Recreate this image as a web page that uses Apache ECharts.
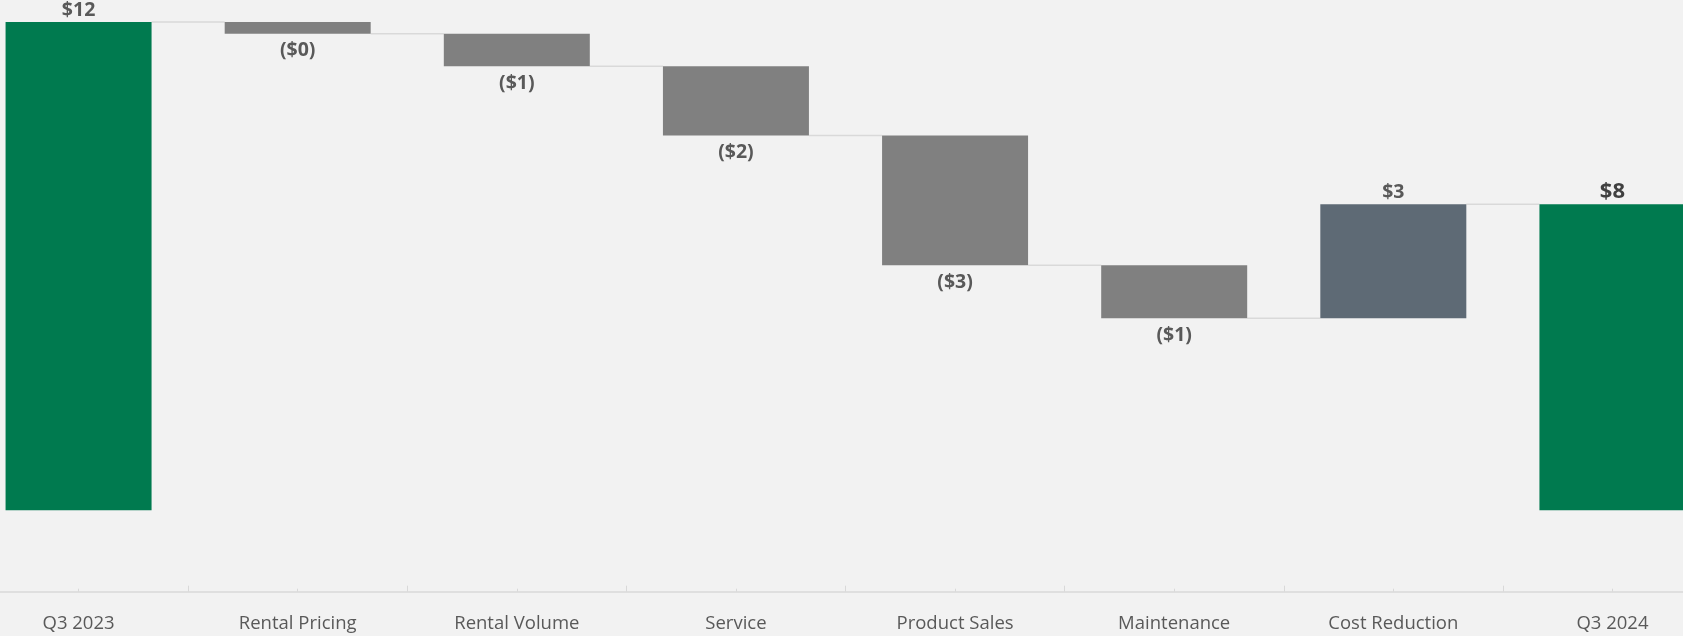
<!DOCTYPE html>
<html>
<head>
<meta charset="utf-8">
<script src="https://cdn.jsdelivr.net/npm/echarts@6/dist/echarts.min.js"></script>
<style>
html,body{margin:0;padding:0;background:#f2f2f2;overflow:hidden;width:1683px;height:636px;}
#chart{width:1753px;height:636px;margin-left:-31px;}
</style>
</head>
<body>
<div id="chart"></div>
<script>
// ---- data ----
const categories = ["Q3 2023", "Rental Pricing", "Rental Volume", "Service", "Product Sales", "Maintenance", "Cost Reduction", "Q3 2024"];
const values = [12.0, -0.29, -0.80, -1.70, -3.19, -1.30, 2.80, 7.52];
const kinds = ["total", "delta", "delta", "delta", "delta", "delta", "delta", "total"];
const barColors = ["#007a4f", "#808080", "#808080", "#808080", "#808080", "#808080", "#5e6a75", "#007a4f"];

// ---- waterfall build ----
const baseData = [], barData = [], levels = [];
let running = 0;
values.forEach((v, i) => {
  if (kinds[i] === "total") {
    running = v;
    baseData.push(0);
    barData.push({ value: v, itemStyle: { color: barColors[i] } });
  } else {
    const prev = running;
    running = prev + v;
    baseData.push(Math.min(prev, running));
    barData.push({ value: Math.abs(v), itemStyle: { color: barColors[i] } });
  }
  levels.push(running);
});

function fmt(v) {
  const r = Math.round(Math.abs(v));
  return v < 0 ? "($" + r + ")" : "$" + r;
}

barData.forEach((d, i) => {
  const neg = kinds[i] === "delta" && values[i] < 0;
  const last = i === values.length - 1;
  d.label = {
    show: true,
    position: neg ? "bottom" : "top",
    distance: neg ? 7 : 2,
    formatter: fmt(values[i]),
    color: last ? "#404040" : "#595959",
    fontSize: last ? 22 : 19.5,
    fontWeight: "bold",
    fontFamily: "Open Sans"
  };
});

const connData = levels.slice(0, -1).map((lv, i) => [i, lv]);

const chart = echarts.init(document.getElementById("chart"), null, { renderer: "canvas" });
chart.setOption({
  backgroundColor: "#f2f2f2",
  animation: false,
  grid: { left: 0, right: 0, top: 22, bottom: 44.3, containLabel: false },
  xAxis: [
    {
      type: "category",
      data: categories,
      axisLine: { onZero: false, lineStyle: { color: "#d9d9d9", width: 1.5 } },
      axisTick: { show: true, inside: true, length: 6, lineStyle: { color: "#d9d9d9", width: 1 } },
      axisLabel: { color: "#595959", fontSize: 18.5, fontFamily: "Open Sans", margin: 23 }
    },
    {
      type: "category",
      data: categories,
      position: "bottom",
      axisLine: { show: false, onZero: false },
      axisTick: { show: true, inside: true, alignWithLabel: true, length: 3, lineStyle: { color: "#d9d9d9", width: 1 } },
      axisLabel: { show: false }
    }
  ],
  yAxis: {
    type: "value",
    min: -2,
    max: 12,
    show: false,
    splitLine: { show: false }
  },
  series: [
    {
      type: "custom",
      xAxisIndex: 0,
      z: 1,
      renderItem: function (params, api) {
        const i = api.value(0);
        const lv = api.value(1);
        const p1 = api.coord([i, lv]);
        const p2 = api.coord([i + 1, lv]);
        const half = 73;
        return {
          type: "line",
          shape: { x1: p1[0] + half, y1: p1[1], x2: p2[0] - half, y2: p2[1] },
          style: { stroke: "#d9d9d9", lineWidth: 1.5 }
        };
      },
      data: connData,
      silent: true
    },
    {
      type: "bar",
      stack: "wf",
      barWidth: 146,
      itemStyle: { color: "transparent" },
      data: baseData,
      silent: true
    },
    {
      type: "bar",
      stack: "wf",
      barWidth: 146,
      data: barData
    }
  ]
});
</script>
</body>
</html>
